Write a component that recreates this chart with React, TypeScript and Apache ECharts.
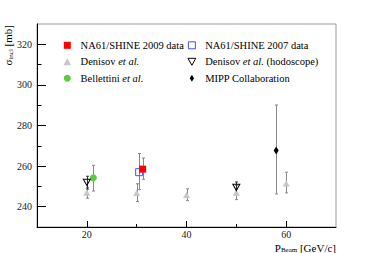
import React, { useEffect, useRef } from "react";
import * as echarts from "echarts";

// [p_beam, sigma, errDown, errUp]
const na61_2009: number[][] = [[31.2, 258.5, 5.0, 5.5]];
const na61_2007: number[][] = [[30.5, 257.0, 8.6, 9.2]];
const denisov: number[][] = [
  [20, 247.0, 2.8, 2.5],
  [30, 246.8, 4.2, 4.5],
  [40, 245.8, 2.8, 3.0],
  [50, 247.0, 3.5, 3.5],
  [60, 251.5, 4.7, 5.5],
];
const denisovHodo: number[][] = [
  [20, 252.0, 3.3, 3.0],
  [50, 249.5, 3.0, 2.7],
];
const bellettini: number[][] = [[21.3, 254.2, 6.5, 6.2]];
const mipp: number[][] = [[58.0, 267.7, 21.4, 22.4]];

const xMinorTicks = [20, 30, 40, 50, 60];
const xMajorTicks = [20, 40, 60];
const yMinorTicks = [240, 250, 260, 270, 280, 290, 300, 310, 320];
const yMajorTicks = [240, 260, 280, 300, 320];

const FONT = "'Liberation Serif', 'DejaVu Serif', serif";

const SQ = "path://M0,0H10V10H0Z";
const TRI_UP = "path://M5,0L10,9L0,9Z";
const TRI_DOWN = "path://M0,0L10,0L5,9Z";
const DIAMOND = "path://M3,0L6,5L3,10L0,5Z";

function errSeries(data: number[][], color: string) {
  return {
    type: "custom",
    xAxisIndex: 0,
    yAxisIndex: 0,
    z: 1,
    silent: true,
    data: data.map((d) => [d[0], d[1] - d[2], d[1] + d[3]]),
    encode: { x: 0, y: [1, 2] },
    renderItem: (_params: any, api: any) => {
      const x = api.value(0);
      const lo = api.coord([x, api.value(1)]);
      const hi = api.coord([x, api.value(2)]);
      const xc = Math.round(lo[0]) + 0.5;
      const st = { stroke: color, lineWidth: 1 };
      return {
        type: "group",
        children: [
          { type: "line", shape: { x1: xc, y1: hi[1], x2: xc, y2: lo[1] }, style: st },
          { type: "line", shape: { x1: xc - 1.5, y1: hi[1], x2: xc + 1.5, y2: hi[1] }, style: st },
          { type: "line", shape: { x1: xc - 1.5, y1: lo[1], x2: xc + 1.5, y2: lo[1] }, style: st },
        ],
      };
    },
  };
}

function markSeries(name: string, data: number[][], symbol: string, size: any, itemStyle: any) {
  return {
    type: "scatter",
    name,
    xAxisIndex: 0,
    yAxisIndex: 0,
    z: 3,
    symbol,
    symbolSize: size,
    itemStyle: { opacity: 1, ...itemStyle },
    data: data.map((d) => [d[0], d[1]]),
  };
}

const legendNames: Record<string, string> = {
  "NA61/SHINE 2009 data": "{n|NA61/SHINE 2009 data}",
  "NA61/SHINE 2007 data": "{n|NA61/SHINE 2007 data}",
  Denisov: "{n|Denisov }{i|et al.}",
  "Denisov hodoscope": "{n|Denisov }{i|et al.}{n| (hodoscope)}",
  Bellettini: "{n|Bellettini }{i|et al.}",
  "MIPP Collaboration": "{n|MIPP Collaboration}",
};

function legend(left: number, items: any[]) {
  return {
    orient: "vertical",
    left,
    top: 39.3,
    padding: 0,
    itemWidth: 16.6,
    itemHeight: 7,
    itemGap: 4.5,
    selectedMode: false,
    data: items,
    formatter: (n: string) => legendNames[n] || n,
    textStyle: {
      fontFamily: FONT,
      fontSize: 10.5,
      color: "#000",
      lineHeight: 12,
      rich: {
        n: { fontFamily: FONT, fontSize: 10.5, color: "#000", lineHeight: 12 },
        i: { fontFamily: FONT, fontSize: 10.5, fontStyle: "italic", color: "#000", lineHeight: 12 },
      },
    },
  };
}

export default function App() {
  const ref = useRef<HTMLDivElement>(null);
  useEffect(() => {
    if (!ref.current) return;
    const chart = echarts.init(ref.current, null, { renderer: "svg" });
    const baseX = { type: "value", min: 10, max: 70, position: "bottom", splitLine: { show: false } };
    const baseY = { type: "value", min: 230, max: 330, position: "left", splitLine: { show: false } };
    const option: any = {
      animation: false,
      backgroundColor: "#fff",
      textStyle: { fontFamily: FONT },
      grid: { left: 37, right: 38, top: 24, bottom: 26, show: true, borderColor: "#999", borderWidth: 1 },
      xAxis: [
        {
          ...baseX,
          axisLine: { show: true, onZero: false, lineStyle: { color: "#000", width: 1 } },
          axisTick: { show: true, inside: true, length: 3, customValues: xMinorTicks, lineStyle: { color: "#000" } },
          axisLabel: { show: false },
        },
        {
          ...baseX,
          axisLine: { show: false, onZero: false },
          axisTick: { show: true, inside: true, length: 6, customValues: xMajorTicks, lineStyle: { color: "#000" } },
          axisLabel: {
            show: true,
            customValues: xMajorTicks,
            margin: 2,
            fontFamily: FONT,
            fontSize: 10,
            color: "#222",
          },
        },
      ],
      yAxis: [
        {
          ...baseY,
          axisLine: { show: true, onZero: false, lineStyle: { color: "#000", width: 1 } },
          axisTick: { show: true, inside: true, length: 4.5, customValues: yMinorTicks, lineStyle: { color: "#000" } },
          axisLabel: { show: false },
        },
        {
          ...baseY,
          axisLine: { show: false, onZero: false },
          axisTick: { show: true, inside: true, length: 9, customValues: yMajorTicks, lineStyle: { color: "#000" } },
          axisLabel: {
            show: true,
            customValues: yMajorTicks,
            margin: 5,
            fontFamily: FONT,
            fontSize: 10,
            color: "#222",
          },
        },
      ],
      legend: [
        legend(63.4, [
          { name: "NA61/SHINE 2009 data" },
          { name: "Denisov" },
          { name: "Bellettini" },
        ]),
        legend(187.5, [
          { name: "NA61/SHINE 2007 data", itemStyle: { borderWidth: 1 } },
          { name: "Denisov hodoscope", itemStyle: { borderWidth: 1 } },
          { name: "MIPP Collaboration" },
        ]),
      ],
      series: [
        errSeries(denisov, "#888"),
        errSeries(na61_2007, "#888"),
        errSeries(na61_2009, "#888"),
        errSeries(bellettini, "#888"),
        errSeries(mipp, "#888"),
        errSeries(denisovHodo, "#333"),
        markSeries("Denisov", denisov, TRI_UP, [7, 6.3], { color: "#c8c8c8" }),
        markSeries("NA61/SHINE 2007 data", na61_2007, SQ, 7, {
          color: "rgba(255,255,255,0)",
          borderColor: "#4a4aff",
          borderWidth: 1,
        }),
        markSeries("NA61/SHINE 2009 data", na61_2009, SQ, 7, { color: "#ff0000" }),
        markSeries("Bellettini", bellettini, "circle", 7, { color: "#5ccc3c" }),
        markSeries("MIPP Collaboration", mipp, DIAMOND, [5, 8], { color: "#000" }),
        markSeries("Denisov hodoscope", denisovHodo, TRI_DOWN, [7, 6.3], {
          color: "rgba(255,255,255,0)",
          borderColor: "#000",
          borderWidth: 1,
        }),
      ],
      graphic: [
        {
          type: "text",
          x: 8,
          y: 25,
          rotation: Math.PI / 2,
          style: {
            text: "σ{sub|incl} [mb]",
            fontFamily: FONT,
            fontSize: 11,
            fill: "#000",
            align: "right",
            verticalAlign: "middle",
            rich: { sub: { fontFamily: FONT, fontSize: 7, fill: "#000", padding: [5, 0, 0, 0] } },
          },
        },
        {
          type: "text",
          x: 336,
          y: 247.5,
          style: {
            text: "P{sub|Beam} [GeV/c]",
            fontFamily: FONT,
            fontSize: 11,
            fill: "#000",
            align: "right",
            verticalAlign: "middle",
            rich: { sub: { fontFamily: FONT, fontSize: 7, fill: "#000", padding: [5, 0, 0, 0] } },
          },
        },
      ],
    };
    chart.setOption(option);
    return () => chart.dispose();
  }, []);
  return (
    <div
      ref={ref}
      style={{ position: "fixed", left: 0, top: 0, width: 374, height: 253, background: "#fff" }}
    />
  );
}
